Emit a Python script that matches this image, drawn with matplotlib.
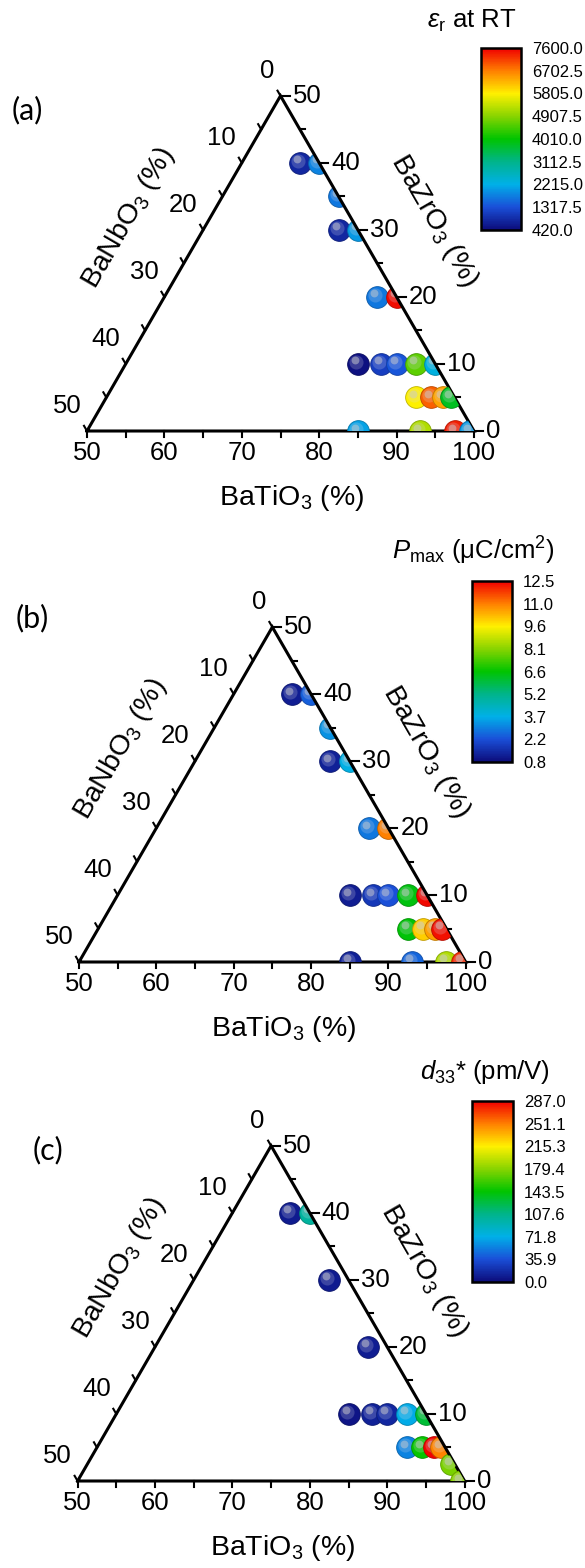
import numpy as np
import matplotlib
matplotlib.use("Agg")
import matplotlib.pyplot as plt
from matplotlib.colors import LinearSegmentedColormap, Normalize, to_rgb
from matplotlib.patches import Polygon
import matplotlib.transforms as mtransforms
import matplotlib.cm as cm

plt.rcParams['font.family'] = ['Liberation Sans', 'DejaVu Sans']
plt.rcParams['mathtext.fontset'] = 'custom'
plt.rcParams['mathtext.rm'] = 'Liberation Sans'
plt.rcParams['mathtext.it'] = 'Liberation Sans:italic'
plt.rcParams['mathtext.bf'] = 'Liberation Sans:bold'

# ---------------- data ----------------
# compositions (mol%) : BaZrO3 and BaNbO3; BaTiO3 = 100 - BaZrO3 - BaNbO3
bzo_ab = [40, 40, 35, 30, 30, 20, 20, 10, 10, 10, 10, 10, 5, 5, 5, 5, 0, 0, 0, 0]
bno_ab = [2.5, 0, 0, 2.5, 0, 2.5, 0, 10, 7, 5, 2.5, 0, 5, 3, 1.5, 0.5, 15, 7, 2.5, 0.5]
eps_r = [800, 1800, 1700, 800, 2000, 1700, 7500, 500, 1100, 1400, 4600, 2300,
         5800, 6900, 6400, 3800, 2100, 5200, 7400, 2000]
p_max = [1.2, 2.5, 3.3, 1.3, 3.8, 2.9, 11.0, 1.2, 1.8, 2.3, 6.5, 12.4,
         6.6, 10.0, 10.6, 12.3, 1.3, 2.6, 8.6, 12.0]

bzo_c = [40, 40, 30, 20, 10, 10, 10, 10, 10, 5, 5, 5, 5, 2.5, 0]
bno_c = [2.5, 0, 2.5, 2.5, 10, 7, 5, 2.5, 0, 5, 3, 1.5, 0.5, 0.5, 0.5]
d33 = [8, 100, 8, 10, 5, 12, 15, 70, 130, 55, 145, 285, 250, 175, 180]

eps_range = (420.0, 7600.0)
pmax_range = (0.8, 12.5)
d33_range = (0.0, 287.0)
eps_ticklabels = ['420.0', '1317.5', '2215.0', '3112.5', '4010.0', '4907.5', '5805.0', '6702.5', '7600.0']
pmax_ticklabels = ['0.8', '2.2', '3.7', '5.2', '6.6', '8.1', '9.6', '11.0', '12.5']
d33_ticklabels = ['0.0', '35.9', '71.8', '107.6', '143.5', '179.4', '215.3', '251.1', '287.0']

bto_ticks = [50, 60, 70, 80, 90, 100]
bzo_ticks = [0, 10, 20, 30, 40, 50]
bno_ticks = [0, 10, 20, 30, 40, 50]
minor_step = 5

cmap_colors = ['#0c0c7a', '#1a4fd8', '#00b0e8', '#00b48a', '#00c400',
               '#88d400', '#fff000', '#ff8000', '#f00000']
cmap = LinearSegmentedColormap.from_list('origin_rainbow', cmap_colors)

# ---------------- layout ----------------
W, H = 585, 1568
S3 = np.sqrt(3) / 2
fig = plt.figure(figsize=(W / 100, H / 100), dpi=100)


def box(x0, ytop, w, h):
    return [x0 / W, 1 - (ytop + h) / H, w / W, h / H]


def tern(z, n):
    z = np.asarray(z, float)
    n = np.asarray(n, float)
    t = 100 - z - n
    x = (t - 50) / 50 + 0.5 * z / 50
    y = S3 * z / 50
    return x, y


panels = [
    dict(L=87, R=474, base=431, label='(a)', lab_xy=(27, 110),
         cb=(481, 48, 40, 182), cb_title=r'$\varepsilon_{\mathrm{r}}$ at RT', cbt_xy=(472, 21),
         z=bzo_ab, n=bno_ab, v=eps_r, rng=eps_range, tl=eps_ticklabels),
    dict(L=79, R=465.7, base=962, label='(b)', lab_xy=(32, 618),
         cb=(472, 581, 40, 181), cb_title=r'$P_{\mathrm{max}}$ (μC/cm$^{2}$)', cbt_xy=(473, 551),
         z=bzo_ab, n=bno_ab, v=p_max, rng=pmax_range, tl=pmax_ticklabels),
    dict(L=77.6, R=464.6, base=1481, label='(c)', lab_xy=(48, 1150),
         cb=(472, 1101, 41, 181), cb_title=r'$d_{33}$* (pm/V)', cbt_xy=(485, 1072),
         z=bzo_c, n=bno_c, v=d33, rng=d33_range, tl=d33_ticklabels),
]

tick_fs = 18.5
title_fs = 20.5
ball_s = 245


def mix(c, other, w):
    c = np.array(to_rgb(c))
    o = np.array(other)
    return tuple((1 - w) * c + w * o)


for P in panels:
    side = P['R'] - P['L']
    apex_y = P['base'] - side * S3
    ax = fig.add_axes(box(P['L'], apex_y, side, side * S3))
    ax.set_xlim(0, 1)
    ax.set_ylim(0, S3)
    ax.axis('off')
    px = 1.0 / side  # data units per pixel

    # triangle frame
    ax.plot([0, 1, 0.5, 0], [0, 0, S3, 0], color='black', lw=2.2,
            solid_joinstyle='miter', clip_on=False, zorder=50)
    tri = Polygon([[0, 0], [1, 0], [0.5, S3]], closed=True, transform=ax.transData,
                  facecolor='none', edgecolor='none')
    ax.add_patch(tri)

    # ticks
    tk = dict(color='black', lw=1.5, clip_on=False, zorder=50)
    for t in range(50, 101, minor_step):
        x = (t - 50) / 50
        ax.plot([x, x], [0, -6 * px], **tk)
    for z in range(0, 51, minor_step):
        x0, y0 = 1 - 0.5 * z / 50, S3 * z / 50
        ln = 9 if z % 10 == 0 else 5
        ax.plot([x0, x0 + ln * px], [y0, y0], **tk)
    for n in range(0, 51, minor_step):
        x0, y0 = 0.5 - 0.5 * n / 50, S3 * (1 - n / 50)
        ln = 6
        ax.plot([x0, x0 - 0.5 * ln * px], [y0, y0 + S3 * ln * px], **tk)

    # tick labels
    for t in bto_ticks:
        ax.text((t - 50) / 50, -22 * px, str(t), ha='center', va='center',
                fontsize=tick_fs, clip_on=False)
    for z in bzo_ticks:
        x0, y0 = 1 - 0.5 * z / 50, S3 * z / 50
        ax.text(x0 + 12 * px, y0, str(z), ha='left', va='center',
                fontsize=tick_fs, clip_on=False)
    for n in bno_ticks:
        x0, y0 = 0.5 - 0.5 * n / 50, S3 * (1 - n / 50)
        dx = -13.5 if n == 0 else -20
        ax.text(x0 + dx * px, y0 + 25 * px, str(n), ha='center', va='center',
                fontsize=tick_fs, clip_on=False)

    # axis titles
    ax.text(205 * px, -67 * px, 'BaTiO$_3$ (%)', ha='center', va='center',
            fontsize=title_fs, clip_on=False)
    ax.text(42 * px, 213 * px, 'BaNbO$_3$ (%)', ha='center', va='center',
            rotation=60, rotation_mode='anchor', fontsize=title_fs, clip_on=False)
    ax.text(347 * px, 210 * px, 'BaZrO$_3$ (%)', ha='center', va='center',
            rotation=-60, rotation_mode='anchor', fontsize=title_fs, clip_on=False)

    # points (shaded spheres)
    norm = Normalize(*P['rng'])
    xs, ys = tern(P['z'], P['n'])
    hl1 = mtransforms.offset_copy(ax.transData, fig=fig, x=-2.0, y=2.0, units='dots')
    hl2 = mtransforms.offset_copy(ax.transData, fig=fig, x=-3.0, y=3.5, units='dots')
    for i, (x, y, v) in enumerate(zip(xs, ys, P['v'])):
        col = cmap(norm(v))[:3]
        zb = 10 + 3 * i
        sc = ax.scatter([x], [y], s=ball_s, color=[col], edgecolors=[mix(col, (0, 0, 0), 0.25)],
                        linewidths=0.6, zorder=zb)
        sc.set_clip_path(tri)
        sc2 = ax.scatter([x], [y], s=ball_s * 0.42, color=[mix(col, (0.85, 0.85, 0.9), 0.22)],
                         linewidths=0, zorder=zb + 1, transform=hl1)
        sc2.set_clip_path(tri)
        sc3 = ax.scatter([x], [y], s=ball_s * 0.13, color=[mix(col, (0.8, 0.8, 0.82), 0.62)],
                         linewidths=0, zorder=zb + 2, transform=hl2)
        sc3.set_clip_path(tri)

    # panel label
    fig.text(P['lab_xy'][0] / W, 1 - P['lab_xy'][1] / H, P['label'], ha='center', va='center',
             fontsize=22, family=['Lato', 'DejaVu Sans'])

    # colorbar
    cx, cy, cw, ch = P['cb']
    cax = fig.add_axes(box(cx, cy, cw, ch))
    sm = cm.ScalarMappable(norm=norm, cmap=cmap)
    cb = fig.colorbar(sm, cax=cax, ticks=np.linspace(P['rng'][0], P['rng'][1], len(P['tl'])))
    cb.ax.set_yticklabels(P['tl'])
    cb.ax.tick_params(length=0, pad=8.0, labelsize=12)
    cb.outline.set_linewidth(1.8)
    fig.text(P['cbt_xy'][0] / W, 1 - P['cbt_xy'][1] / H, P['cb_title'], ha='center', va='center',
             fontsize=18.5)

fig.savefig('out.png', dpi=100)
